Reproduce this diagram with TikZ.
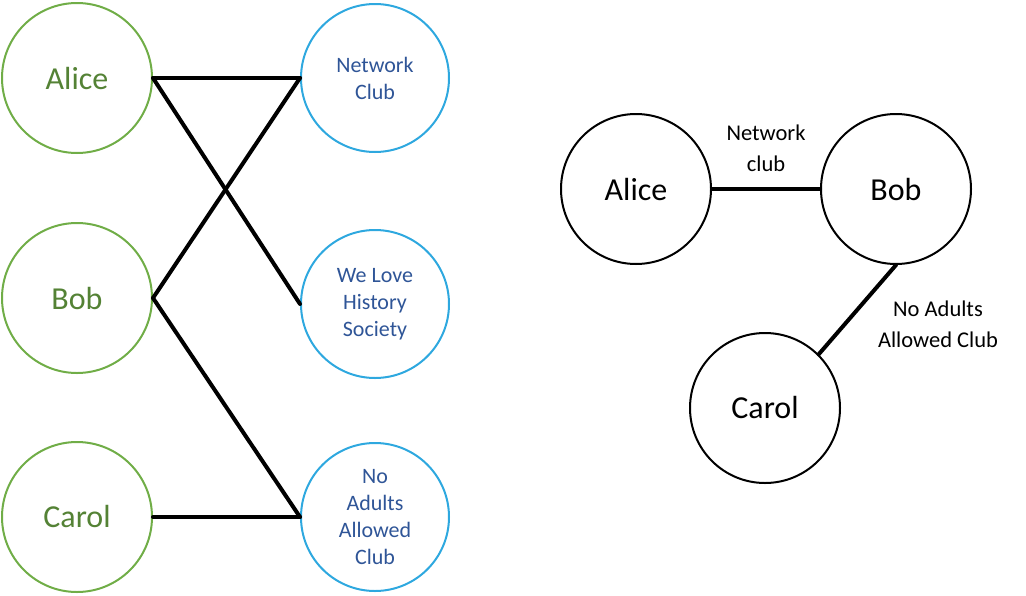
\documentclass[tikz,border=0pt]{standalone}
\usepackage{fontspec}
\setmainfont{Carlito}
\definecolor{persongreen}{RGB}{112,173,71}
\definecolor{persontext}{RGB}{84,130,53}
\definecolor{clubblue}{RGB}{46,168,223}
\definecolor{clubtext}{RGB}{47,85,151}
\tikzset{
  person/.style={circle,draw=persongreen,line width=2pt,minimum size=150pt,inner sep=0pt,
    text=persontext,font=\fontsize{32}{34}\selectfont},
  club/.style={circle,draw=clubblue,line width=2pt,minimum size=148pt,inner sep=0pt,
    text=clubtext,align=center,font=\fontsize{22}{27}\selectfont},
  member/.style={circle,draw=black,line width=2pt,minimum size=150pt,inner sep=0pt,
    font=\fontsize{32}{34}\selectfont},
  tie/.style={line width=4pt},
  tielabel/.style={align=center,font=\fontsize{22.5}{31}\selectfont}
}
\begin{document}
\begin{tikzpicture}[line cap=round,line join=round,x=1pt,y=-1pt]
\useasboundingbox (0,0) rectangle (1026,595);
\clip (0,0) rectangle (1026,595);

% two-mode network
\node[person] (alice) at (77,78) {Alice};
\node[person] (bob) at (77,298) {Bob};
\node[person] (carol) at (77,517) {Carol};
\node[club] (network) at (375,78) {Network\\Club};
\node[club] (history) at (375,304) {We Love\\History\\Society};
\node[club] (noadults) at (375,517) {No\\Adults\\Allowed\\Club};

\draw[tie] (alice.east) -- (network.west);
\draw[tie] (alice.east) -- (history.west);
\draw[tie] (bob.east) -- (network.west);
\draw[tie] (bob.east) -- (noadults.west);
\draw[tie] (carol.east) -- (noadults.west);

% one-mode projection
\node[member] (alice2) at (636,189) {Alice};
\node[member] (bob2) at (896,189) {Bob};
\node[member] (carol2) at (765,408) {Carol};

\draw[tie] (alice2) -- (bob2);
\draw[tie] (carol2.45) -- (bob2.south);
\node[tielabel] (netlabel) at (766,148) {Network\\club};
\node[tielabel] (adultlabel) at (938,324) {No Adults\\Allowed Club};
\end{tikzpicture}
\end{document}
